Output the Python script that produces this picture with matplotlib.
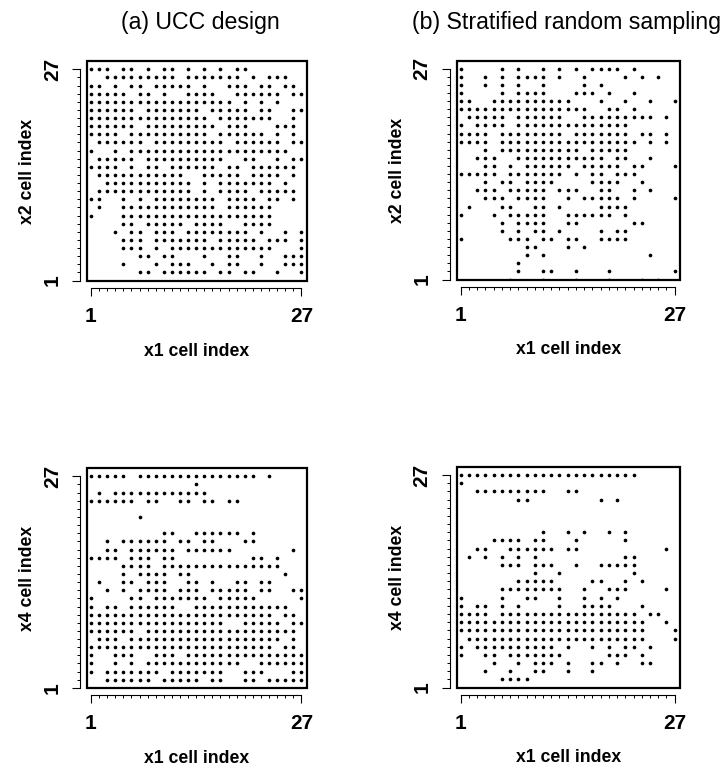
"""Cell-occupancy maps of a 27 x 27 grid: UCC design vs. stratified random sampling.

Each panel marks the cells (x1 index, x2/x4 index) that hold a design point.
Rows are listed from cell index 27 (top) down to cell index 1 (bottom); each row
holds the occupied x1 cell indices.
"""

import matplotlib.pyplot as plt
from matplotlib.patches import Rectangle
from matplotlib.ticker import FixedLocator

plt.rcParams["font.family"] = ["Liberation Sans", "DejaVu Sans"]
plt.rcParams["font.weight"] = "bold"

N_CELLS = 27
ROW_INDICES = list(range(N_CELLS, 0, -1))

# (a) UCC design, x1 vs x2 (row 27 first)
UCC_X1_X2_ROWS = [
    [1, 2, 3, 5, 6, 8, 10, 11, 13, 15, 17, 19, 20],
    [3, 4, 5, 6, 7, 8, 9, 10, 11, 13, 14, 15, 16, 17, 18, 19, 21, 23, 24, 25],
    [1, 2, 4, 6, 7, 9, 10, 11, 12, 13, 15, 18, 19, 20, 22, 23, 25, 26],
    [1, 2, 3, 4, 5, 7, 8, 10, 13, 14, 15, 16, 19, 20, 21, 22, 23, 24, 26, 27],
    [1, 2, 3, 4, 5, 6, 7, 8, 9, 10, 11, 12, 13, 14, 15, 16, 17, 18, 20, 22, 24],
    [1, 2, 3, 4, 5, 6, 8, 9, 10, 11, 12, 13, 14, 16, 17, 18, 19, 20, 22, 23, 26, 27],
    [1, 2, 3, 4, 5, 6, 7, 8, 9, 10, 11, 12, 13, 14, 15, 17, 18, 19, 20, 21, 22, 23, 26],
    [1, 2, 3, 4, 5, 6, 8, 9, 10, 11, 12, 13, 14, 15, 16, 18, 19, 20, 24, 25, 26],
    [1, 2, 3, 4, 6, 7, 8, 9, 10, 11, 12, 13, 14, 15, 17, 18, 19, 20, 21, 22, 24, 26],
    [2, 3, 4, 5, 6, 7, 9, 10, 11, 12, 13, 14, 15, 16, 17, 19, 20, 21, 22, 23, 24, 26, 27],
    [1, 4, 6, 7, 8, 9, 10, 11, 12, 13, 14, 15, 16, 17, 18, 19, 20, 21, 22, 23, 24, 25],
    [2, 3, 4, 5, 6, 8, 9, 10, 11, 12, 13, 14, 15, 16, 17, 20, 21, 24, 26, 27],
    [1, 2, 3, 4, 6, 8, 9, 11, 12, 13, 14, 15, 16, 18, 19, 21, 22, 23, 24, 25, 26],
    [2, 3, 4, 5, 6, 7, 8, 9, 10, 11, 12, 15, 16, 17, 18, 19, 21, 22, 23, 24, 26],
    [3, 4, 5, 6, 7, 8, 9, 10, 11, 12, 13, 15, 17, 18, 19, 20, 21, 22, 23, 25],
    [2, 3, 4, 5, 6, 7, 8, 9, 10, 11, 12, 13, 15, 17, 18, 19, 20, 22, 23, 24, 25, 26],
    [1, 2, 5, 7, 9, 10, 11, 12, 13, 14, 15, 16, 18, 19, 20, 21, 23, 24, 26],
    [2, 5, 6, 7, 8, 9, 10, 11, 12, 13, 14, 15, 16, 18, 19, 20, 21, 22, 23],
    [1, 5, 6, 7, 8, 9, 10, 11, 12, 13, 14, 15, 16, 17, 18, 19, 20, 21, 22, 23],
    [5, 6, 8, 9, 10, 11, 12, 14, 15, 16, 17, 20, 21, 22, 23],
    [4, 6, 7, 9, 10, 11, 13, 14, 15, 16, 17, 18, 19, 20, 22, 25, 27],
    [5, 6, 7, 9, 10, 11, 12, 13, 14, 15, 17, 18, 19, 20, 21, 23, 24, 25, 27],
    [5, 6, 7, 9, 11, 12, 13, 14, 15, 16, 17, 18, 19, 20, 21, 22, 23, 27],
    [7, 8, 10, 11, 15, 18, 19, 22, 25, 26, 27],
    [5, 9, 11, 12, 13, 16, 18, 19, 22, 25, 26, 27],
    [7, 8, 10, 11, 12, 13, 14, 15, 17, 18, 20, 21, 24, 27],
    [],
]

# (b) stratified random sampling, x1 vs x2
SRS_X1_X2_ROWS = [
    [1, 6, 8, 11, 13, 15, 17, 18, 19, 20, 22],
    [1, 4, 6, 8, 9, 10, 11, 13, 16, 21, 23, 25],
    [1, 4, 6, 8, 11, 16, 18],
    [1, 6, 8, 9, 10, 11, 15, 16, 17, 19, 22],
    [1, 2, 5, 6, 7, 8, 9, 10, 11, 12, 13, 14, 18, 21, 24, 27],
    [1, 2, 3, 4, 5, 6, 7, 8, 9, 10, 11, 12, 13, 14, 15, 16, 19, 20, 22],
    [2, 3, 4, 5, 6, 8, 9, 10, 11, 12, 13, 16, 17, 18, 19, 20, 21, 22, 23, 24, 26],
    [1, 3, 4, 5, 6, 8, 9, 10, 11, 12, 13, 14, 15, 16, 17, 18, 19, 20, 21],
    [1, 2, 3, 4, 6, 7, 8, 9, 10, 11, 12, 13, 15, 16, 17, 18, 19, 20, 21, 23, 24, 26],
    [1, 2, 3, 4, 6, 7, 8, 9, 10, 11, 12, 13, 14, 15, 16, 17, 18, 19, 20, 21, 22, 24, 26],
    [4, 6, 7, 8, 9, 10, 11, 12, 13, 14, 15, 17, 18, 19, 20, 21],
    [3, 4, 5, 8, 9, 10, 11, 12, 13, 14, 15, 16, 17, 18, 20, 21, 24],
    [4, 5, 7, 9, 10, 11, 12, 13, 14, 16, 17, 18, 19, 20, 22, 23, 27],
    [1, 2, 3, 4, 5, 7, 8, 9, 10, 11, 12, 13, 15, 17, 18, 20, 21, 22],
    [4, 6, 7, 9, 10, 11, 12, 17, 18, 19, 20, 23],
    [3, 4, 5, 7, 8, 9, 10, 11, 13, 14, 15, 18, 19, 22, 24],
    [4, 5, 6, 8, 9, 10, 11, 14, 16, 17, 18, 19, 20, 22, 27],
    [2, 6, 7, 10, 11, 13, 18, 19, 20, 21],
    [1, 5, 7, 8, 9, 10, 11, 14, 15, 16, 17, 18, 19, 21],
    [6, 8, 9, 10, 11, 14, 15, 22, 23],
    [6, 8, 10, 11, 13, 18, 20, 21],
    [1, 7, 8, 9, 11, 12, 14, 15, 18, 19, 20, 21],
    [9, 10, 14, 16],
    [9, 11, 24],
    [8],
    [8, 11, 12, 15, 19, 27],
    [7, 11, 15, 19, 23, 25],
]

# (c) UCC design, x1 vs x4
UCC_X1_X4_ROWS = [
    [1, 2, 3, 4, 5, 7, 8, 9, 10, 11, 12, 13, 14, 15, 16, 17, 18, 19, 20, 21, 23],
    [14],
    [2, 4, 5, 6, 7, 8, 9, 10, 11, 12, 13, 14, 15],
    [1, 2, 3, 4, 5, 6, 8, 9, 12, 13, 15, 16, 18, 19],
    [],
    [7],
    [],
    [10, 11, 14, 15, 16, 17, 18, 19, 21],
    [3, 5, 6, 7, 8, 9, 10, 12, 13, 15, 16, 20, 21],
    [3, 4, 6, 7, 8, 9, 10, 11, 13, 14, 15, 16, 17, 18, 26],
    [1, 2, 3, 4, 6, 7, 8, 10, 11, 21, 22, 24],
    [5, 6, 7, 8, 10, 11, 12, 13, 14, 15, 16, 17, 18, 19, 20, 21, 22, 23, 24],
    [5, 7, 8, 9, 10, 12, 13, 25],
    [2, 5, 6, 8, 9, 10, 13, 14, 16, 19, 20, 22, 23],
    [3, 5, 7, 8, 9, 10, 12, 13, 14, 16, 17, 18, 19, 20, 22, 23, 26, 27],
    [1, 6, 7, 9, 10, 11, 12, 13, 14, 15, 17, 18, 19, 20, 21, 27],
    [1, 3, 4, 6, 7, 8, 9, 10, 11, 14, 15, 16, 17, 18, 19, 20, 21, 22, 23, 24, 25],
    [1, 2, 3, 4, 5, 6, 7, 8, 9, 10, 11, 12, 13, 14, 15, 16, 17, 18, 19, 20, 21, 22, 23, 25, 26],
    [1, 2, 3, 4, 5, 6, 7, 8, 9, 10, 11, 12, 13, 14, 15, 16, 17, 20, 21, 22, 23, 24, 26, 27],
    [1, 2, 3, 4, 5, 6, 8, 9, 10, 11, 12, 13, 14, 15, 16, 17, 18, 19, 20, 21, 22, 23, 24, 25, 26],
    [2, 3, 4, 6, 7, 8, 9, 10, 11, 12, 13, 14, 15, 16, 17, 18, 19, 20, 21, 22, 23, 24, 26],
    [1, 2, 3, 4, 5, 6, 7, 8, 9, 10, 11, 12, 13, 14, 15, 16, 17, 18, 19, 20, 21, 22, 23, 25, 26],
    [1, 4, 5, 6, 9, 10, 11, 13, 14, 15, 16, 17, 18, 19, 20, 21, 22, 23, 24, 25, 26, 27],
    [1, 4, 6, 8, 9, 10, 11, 12, 13, 14, 15, 16, 17, 18, 19, 22, 23, 24, 25, 26, 27],
    [1, 3, 4, 5, 6, 7, 8, 9, 11, 12, 13, 14, 15, 16, 17, 20, 21, 22, 26, 27],
    [3, 4, 5, 6, 7, 8, 10, 11, 12, 13, 14, 16, 17, 20, 21, 23, 24, 25, 26, 27],
    [],
]

# (d) stratified random sampling, x1 vs x4
SRS_X1_X4_ROWS = [
    [1, 2, 3, 4, 5, 6, 7, 8, 9, 10, 11, 12, 13, 14, 15, 16, 17, 18, 19, 20, 21, 22],
    [1],
    [3, 4, 5, 6, 7, 8, 9, 10, 11, 14, 15],
    [8, 9, 18, 20],
    [],
    [],
    [],
    [11, 14, 16, 19, 21],
    [5, 6, 7, 8, 10, 11, 15, 21],
    [3, 4, 7, 8, 9, 10, 11, 12, 14, 15, 26],
    [2, 4, 6, 8, 10, 21, 22],
    [6, 7, 8, 10, 11, 12, 15, 18, 19, 20, 21, 22],
    [10, 13, 22],
    [8, 9, 10, 11, 12, 17, 18, 21, 23],
    [6, 7, 8, 9, 10, 11, 12, 13, 16, 19, 20, 21, 26],
    [1, 6, 9, 10, 13, 16, 18, 20],
    [1, 3, 4, 6, 8, 13, 16, 17, 18, 19, 23],
    [1, 2, 3, 4, 6, 7, 8, 9, 10, 11, 12, 13, 14, 15, 16, 17, 18, 19, 20, 21, 22, 24, 25],
    [1, 2, 3, 4, 5, 6, 7, 8, 9, 10, 11, 12, 13, 14, 15, 16, 17, 18, 19, 20, 21, 22, 23, 26],
    [1, 2, 3, 4, 5, 6, 7, 8, 9, 10, 11, 12, 13, 14, 15, 16, 17, 18, 19, 20, 21, 22, 23, 27],
    [2, 3, 4, 5, 6, 7, 8, 9, 10, 11, 12, 13, 14, 15, 16, 17, 18, 19, 20, 21, 22, 23, 27],
    [1, 3, 4, 5, 6, 7, 8, 9, 10, 11, 12, 14, 17, 19, 21, 22, 24],
    [1, 4, 5, 7, 8, 9, 10, 11, 12, 13, 19, 20, 21, 23],
    [5, 8, 10, 11, 12, 14, 17, 18, 20, 23, 24],
    [4, 7, 10, 11, 14, 17],
    [6, 7, 8, 9],
    [],
]

PANEL_TITLES = ["(a) UCC design", "(b) Stratified random sampling", None, None]
X_LABELS = ["x1 cell index"] * 4
Y_LABELS = ["x2 cell index", "x2 cell index", "x4 cell index", "x4 cell index"]
TICK_VALUES = [1, 27]

FIG_W, FIG_H = 725, 767
# Frame of each panel in pixels: (left, top, right, bottom)
PANEL_BOXES = [
    (87.3, 61.3, 306.7, 281.0),
    (457.0, 60.7, 680.0, 280.0),
    (87.3, 468.3, 306.7, 688.3),
    (457.0, 467.0, 680.0, 688.0),
]
# Title centres in pixels (the reference titles sit a little off the panel centre)
TITLE_CENTERS_X = [200, 567]
TITLE_SIZE = 16.7
LABEL_SIZE = 12.7
TICK_SIZE = 15


def occupied_cells(rows):
    xs, ys = [], []
    for row_index, columns in zip(ROW_INDICES, rows):
        xs.extend(columns)
        ys.extend([row_index] * len(columns))
    return xs, ys


def draw_panel(fig, box, rows, title, title_x, x_label, y_label):
    left, top, right, bottom = box
    ax = fig.add_axes([left / FIG_W, 1 - bottom / FIG_H,
                       (right - left) / FIG_W, (bottom - top) / FIG_H])
    xs, ys = occupied_cells(rows)
    ax.scatter(xs, ys, s=7, c="black", linewidths=0, zorder=1)
    ax.set_xlim(0.55, 27.65)
    ax.set_ylim(0.95, 27.98)

    # box around the plot region, axes drawn slightly outside it
    ax.add_patch(Rectangle((0, 0), 1, 1, transform=ax.transAxes, fill=False,
                           lw=1.6, ec="black", zorder=3, clip_on=False))
    ax.spines[["top", "right"]].set_visible(False)
    ax.spines["left"].set_position(("outward", 5.3))
    ax.spines["bottom"].set_position(("outward", 4.8))
    for side in ("left", "bottom"):
        ax.spines[side].set_bounds(1, N_CELLS)
        ax.spines[side].set_linewidth(0.8)

    ax.set_xticks(TICK_VALUES)
    ax.set_yticks(TICK_VALUES)
    ax.xaxis.set_minor_locator(FixedLocator(range(1, N_CELLS + 1)))
    ax.yaxis.set_minor_locator(FixedLocator(range(1, N_CELLS + 1)))
    ax.tick_params(which="major", length=5.5, width=0.8, labelsize=TICK_SIZE)
    ax.tick_params(which="minor", length=2.2, width=0.7)
    ax.tick_params(axis="x", which="major", pad=8.5)
    ax.tick_params(axis="y", which="major", pad=7.5)
    for label in ax.get_yticklabels():
        label.set_rotation(90)
        label.set_verticalalignment("center")
        label.set_fontweight("bold")
    for label in ax.get_xticklabels():
        label.set_fontweight("bold")

    center_x = (left + right) / 2 / FIG_W
    center_y = 1 - (top + bottom) / 2 / FIG_H
    if title:
        fig.text(title_x / FIG_W, 1 - 22 / FIG_H, title, ha="center", va="center",
                 fontsize=TITLE_SIZE, fontweight="normal")
    fig.text(center_x, 1 - (bottom + 70) / FIG_H, x_label, ha="center",
             va="center", fontsize=LABEL_SIZE, fontweight="bold")
    fig.text((left - 60) / FIG_W, center_y, y_label, ha="center", va="center",
             rotation=90, fontsize=LABEL_SIZE, fontweight="bold")
    return ax


def main():
    fig = plt.figure(figsize=(FIG_W / 100, FIG_H / 100), dpi=100)
    panels = [UCC_X1_X2_ROWS, SRS_X1_X2_ROWS, UCC_X1_X4_ROWS, SRS_X1_X4_ROWS]
    title_xs = TITLE_CENTERS_X + [None, None]
    for box, rows, title, title_x, x_label, y_label in zip(
            PANEL_BOXES, panels, PANEL_TITLES, title_xs, X_LABELS, Y_LABELS):
        draw_panel(fig, box, rows, title, title_x, x_label, y_label)
    fig.savefig("out.png", dpi=100)
    plt.close(fig)


if __name__ == "__main__":
    main()
